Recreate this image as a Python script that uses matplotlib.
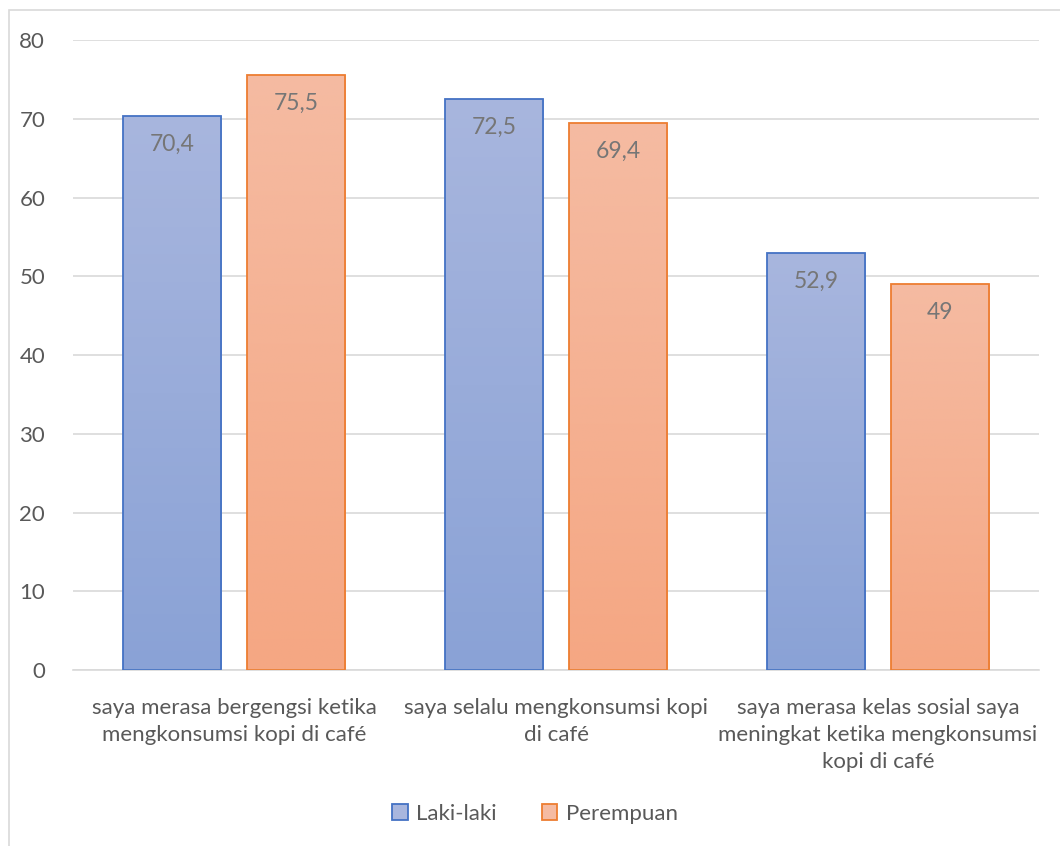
import numpy as np
import matplotlib.pyplot as plt
from matplotlib.colors import LinearSegmentedColormap
from matplotlib.patches import Rectangle

plt.rcParams['font.family'] = ['Lato', 'DejaVu Sans']

# Data
categories = [
    "saya merasa bergengsi ketika\nmengkonsumsi kopi di café",
    "saya selalu mengkonsumsi kopi\ndi café",
    "saya merasa kelas sosial saya\nmeningkat ketika mengkonsumsi\nkopi di café",
]
laki = [70.4, 72.5, 52.9]
perempuan = [75.5, 69.4, 49]
laki_labels = ["70,4", "72,5", "52,9"]
perempuan_labels = ["75,5", "69,4", "49"]

fig = plt.figure(figsize=(10.6, 8.46), dpi=100)
ax = fig.add_axes([73 / 1060, (846 - 670) / 846, (1039 - 73) / 1060, 630 / 846])

# outer chart border (only top and left visible in the crop)
fig.patches.append(Rectangle((9 / 1060, -0.1), 1.2, (846 - 10) / 846 + 0.1,
                             transform=fig.transFigure, fill=False,
                             edgecolor="#D9D9D9", linewidth=1.2, zorder=0))

x = np.arange(len(categories))
width = 0.307
gap = 0.078

blue_cmap = LinearSegmentedColormap.from_list("b", ["#8AA2D6", "#A8B6DE"])
orange_cmap = LinearSegmentedColormap.from_list("o", ["#F5A783", "#F5BBA2"])
grad = np.linspace(0, 1, 256).reshape(-1, 1)


def gradient_bars(xs, vals, cmap, edge):
    bars = ax.bar(xs, vals, width, color="none", edgecolor=edge, linewidth=1.3, zorder=3)
    for b in bars:
        x0, y0 = b.get_x(), b.get_y()
        w, h = b.get_width(), b.get_height()
        im = ax.imshow(grad, extent=[x0, x0 + w, y0, y0 + h], origin="lower",
                       aspect="auto", cmap=cmap, zorder=2)
        im.set_clip_path(b)
    return bars


b1 = gradient_bars(x - width / 2 - gap / 2, laki, blue_cmap, "#4472C4")
b2 = gradient_bars(x + width / 2 + gap / 2, perempuan, orange_cmap, "#ED7D31")

for bars, labels in ((b1, laki_labels), (b2, perempuan_labels)):
    for b, lab in zip(bars, labels):
        ax.text(b.get_x() + b.get_width() / 2, b.get_height() - 3.6, lab,
                ha="center", va="center", fontsize=16.5, color="#767676", zorder=4)

ax.set_xlim(-0.5, 2.5)
ax.set_ylim(0, 80)
ax.set_yticks(range(0, 81, 10))
ax.set_xticks(x)
ax.set_xticklabels(categories, fontsize=16, color="#595959", linespacing=1.45)
ax.tick_params(axis="y", labelsize=16, labelcolor="#595959", length=0, pad=20)
ax.tick_params(axis="x", length=0, pad=20)
ax.grid(axis="y", color="#D9D9D9", linewidth=1.2, zorder=0)
ax.set_axisbelow(True)
for s in ["top", "right", "left"]:
    ax.spines[s].set_visible(False)
ax.spines["bottom"].set_color("#D9D9D9")
ax.spines["bottom"].set_linewidth(1.2)

handles = [Rectangle((0, 0), 1, 1, facecolor="#A8B6DE", edgecolor="#4472C4", linewidth=1.3),
           Rectangle((0, 0), 1, 1, facecolor="#F5BBA2", edgecolor="#ED7D31", linewidth=1.3)]
fig.legend(handles, ["Laki-laki", "Perempuan"], loc="center", bbox_to_anchor=(535 / 1060, 1 - 814 / 846),
           ncol=2, frameon=False, fontsize=16, labelcolor="#595959",
           handlelength=0.7, handleheight=0.7, handletextpad=0.4, columnspacing=2.0)

fig.savefig("out.png", dpi=100)
